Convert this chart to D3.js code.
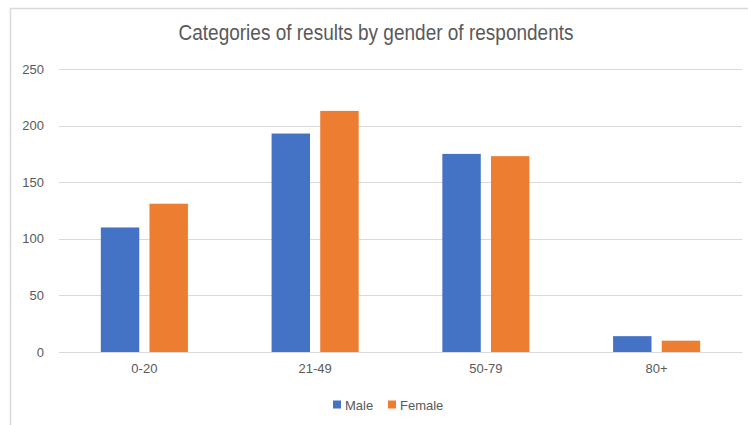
<!DOCTYPE html>
<html lang="en">
<head>
<meta charset="UTF-8">
<title>Categories of results by gender</title>
<script src="https://d3js.org/d3.v7.min.js"></script>
<style>
    body{
        margin: 0;
        background: #fff;
    }
    .chart text{
        font-family: "Liberation Sans Narrow", "Arial Narrow", "Liberation Sans", sans-serif;
        fill: #595959;
    }
    .axis path{ display: none; }
    .axis line{ display: none; }
</style>
</head>
<body>
<svg class="chart"></svg>
<script>
    const categories = ['0-20', '21-49', '50-79', '80+'];
    const series = ['Male', 'Female'];
    const male = [110, 193, 175, 14];
    const female = [131, 213, 173, 10];
    const yTicks = [0, 50, 100, 150, 200, 250];
    const colors = ['#4472c4', '#ed7d31'];

    const W = 748, H = 425;
    const margin = {top: 69, right: 6, bottom: 73, left: 59};
    const width = W - margin.left - margin.right;
    const height = H - margin.top - margin.bottom;

    const svg = d3.select('.chart')
                  .attr('width', W)
                  .attr('height', H);

    // outer frame (right/bottom edges fall outside the picture)
    svg.append('rect')
        .attr('x', 10.5).attr('y', 8.5)
        .attr('width', W + 10).attr('height', H + 10)
        .attr('fill', 'none')
        .attr('stroke', '#d9d9d9')
        .attr('stroke-width', 1.5);

    // title is a condensed face in the original, squeeze it to the same width
    svg.append('text')
        .attr('x', 376)
        .attr('y', 40)
        .attr('text-anchor', 'middle')
        .attr('textLength', 395)
        .attr('lengthAdjust', 'spacingAndGlyphs')
        .style('font-size', '22px')
        .text('Categories of results by gender of respondents');

    const chart = svg.append('g')
                     .attr('transform', 'translate(' + margin.left + ',' + margin.top + ')');

    const x0 = d3.scaleBand()
                 .domain(categories)
                 .range([0, width])
                 .paddingInner(0.49)
                 .paddingOuter(0.245);
    const x1 = d3.scaleBand()
                 .domain(series)
                 .range([0, x0.bandwidth()])
                 .paddingInner(0.21);
    const y = d3.scaleLinear()
                .domain([0, 250])
                .range([height, 0]);

    // gridlines
    chart.selectAll('.grid')
        .data(yTicks).enter()
        .append('line')
        .attr('x1', 0).attr('x2', width)
        .attr('y1', d => Math.round(y(d)) + 0.5)
        .attr('y2', d => Math.round(y(d)) + 0.5)
        .attr('stroke', '#d9d9d9')
        .attr('stroke-width', 1);

    chart.append('g')
        .attr('class', 'axis')
        .call(d3.axisLeft(y).tickValues(yTicks).tickSize(0).tickPadding(15))
        .selectAll('text')
        .style('font-size', '13px');

    chart.append('g')
        .attr('class', 'axis')
        .attr('transform', 'translate(0,' + height + ')')
        .call(d3.axisBottom(x0).tickSize(0).tickPadding(12))
        .selectAll('text')
        .style('font-size', '13px');

    const values = [male, female];
    const groups = chart.selectAll('.cat')
                        .data(categories).enter()
                        .append('g')
                        .attr('transform', d => 'translate(' + x0(d) + ',0)');

    groups.selectAll('rect')
        .data((c, i) => series.map((s, j) => ({s: s, v: values[j][i], j: j})))
        .enter()
        .append('rect')
        .attr('x', d => x1(d.s))
        .attr('y', d => y(d.v))
        .attr('width', x1.bandwidth())
        .attr('height', d => height - y(d.v))
        .attr('fill', d => colors[d.j]);

    // legend
    const legend = svg.append('g').attr('transform', 'translate(333,405)');
    const items = [{name: 'Male', x: 0}, {name: 'Female', x: 55}];
    items.forEach((it, i) => {
        legend.append('rect')
            .attr('x', it.x).attr('y', -4.5)
            .attr('width', 8).attr('height', 8)
            .attr('fill', colors[i]);
        legend.append('text')
            .attr('x', it.x + 12)
            .attr('y', 0)
            .attr('dy', '0.35em')
            .style('font-size', '13px')
            .text(it.name);
    });
</script>
</body>
</html>
